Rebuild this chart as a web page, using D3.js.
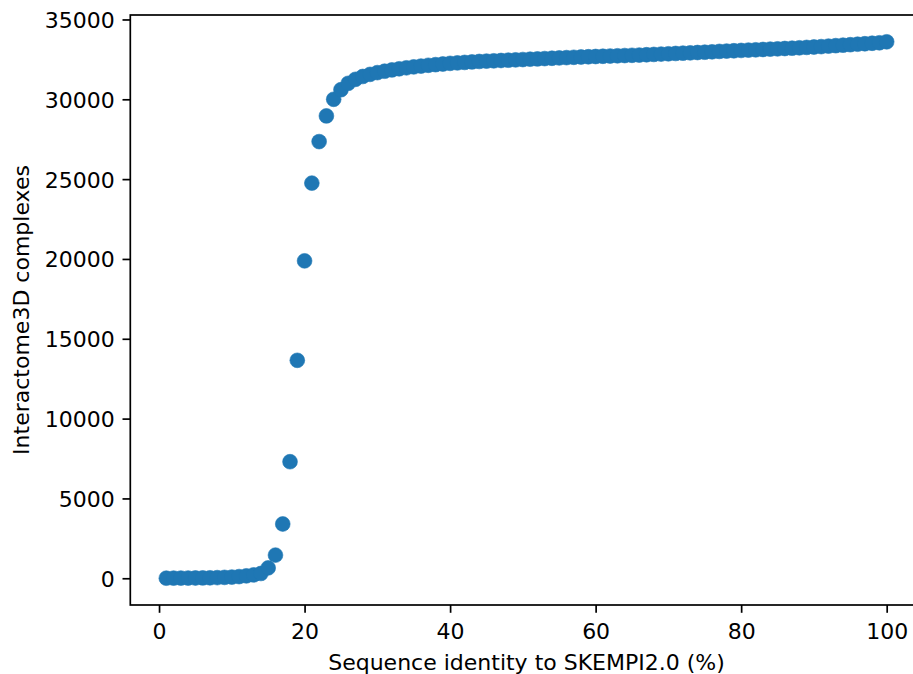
<!DOCTYPE html>
<html>
<head>
<meta charset="utf-8">
<script src="https://cdn.jsdelivr.net/npm/d3@7"></script>
<style>
  html, body { margin: 0; padding: 0; background: #fff; }
  svg { display: block; }
  text { font-family: "DejaVu Sans", sans-serif; fill: #000; }
</style>
</head>
<body>
<svg id="chart" width="913" height="674"></svg>
<script>
// Sequence identity threshold (%)
const identity = d3.range(1, 101);
// Interactome3D complexes (cumulative count)
const complexes = [
  5, 8, 10, 13, 17, 22, 30, 40, 55, 75,
  105, 150, 210, 300, 650, 1450, 3400, 7300, 13650, 19880,
  24750, 27350, 28960, 30000, 30600, 31000, 31250, 31430, 31560, 31670,
  31760, 31840, 31910, 31970, 32030, 32080, 32130, 32170, 32210, 32250,
  32280, 32310, 32340, 32370, 32390, 32410, 32430, 32450, 32470, 32490,
  32510, 32530, 32550, 32570, 32590, 32610, 32630, 32650, 32665, 32680,
  32695, 32710, 32725, 32740, 32755, 32770, 32790, 32810, 32830, 32850,
  32870, 32890, 32910, 32930, 32950, 32975, 33000, 33020, 33040, 33060,
  33080, 33100, 33120, 33140, 33160, 33180, 33200, 33225, 33250, 33275,
  33300, 33330, 33360, 33390, 33420, 33450, 33480, 33510, 33540, 33600
];
const xTicks = [0, 20, 40, 60, 80, 100];
const yTicks = [0, 5000, 10000, 15000, 20000, 25000, 30000, 35000];
const xLabel = "Sequence identity to SKEMPI2.0 (%)";
const yLabel = "Interactome3D complexes";

const data = identity.map((x, i) => ({ x, y: complexes[i] }));

const svg = d3.select("#chart");
const L = 130.3, R = 922.7, T = 15, B = 605;
const color = "#1f77b4";

const xMin = d3.min(identity), xMax = d3.max(identity);
const xPad = (xMax - xMin) * 0.05;
const yMin = d3.min(complexes), yMax = d3.max(complexes);
const yPad = (yMax - yMin) * 0.05;

const x = d3.scaleLinear().domain([xMin - xPad, xMax + xPad]).range([L, R]);
const y = d3.scaleLinear().domain([yMin - yPad, yMax + yPad]).range([B, T]);

const clip = svg.append("defs").append("clipPath").attr("id", "clip")
  .append("rect").attr("x", L).attr("y", T).attr("width", R - L).attr("height", B - T);

// points
svg.append("g").attr("clip-path", null)
  .selectAll("circle").data(data).enter().append("circle")
  .attr("cx", d => x(d.x))
  .attr("cy", d => y(d.y))
  .attr("r", 7.4)
  .attr("fill", color)
  .attr("stroke", color)
  .attr("stroke-width", 0.6);

// axes
const xAxis = d3.axisBottom(x).tickValues(xTicks).tickSize(7.8).tickPadding(7.8).tickFormat(d3.format("d"));
const yAxis = d3.axisLeft(y).tickValues(yTicks).tickSize(7.8).tickPadding(7.8).tickFormat(d3.format("d"));

const gx = svg.append("g").attr("transform", `translate(0,${B})`).call(xAxis);
const gy = svg.append("g").attr("transform", `translate(${L},0)`).call(yAxis);
[gx, gy].forEach(g => {
  g.select(".domain").remove();
  g.selectAll(".tick line").attr("stroke", "#000").attr("stroke-width", 1.7);
  g.selectAll(".tick text").attr("font-size", 22).attr("font-family", "DejaVu Sans, sans-serif").attr("fill", "#000");
});
gx.selectAll(".tick text").attr("dy", null).attr("y", 33.5);
gy.selectAll(".tick text").attr("dy", "0.36em");

// spines
svg.append("rect").attr("x", L).attr("y", T).attr("width", R - L).attr("height", B - T)
  .attr("fill", "none").attr("stroke", "#000").attr("stroke-width", 1.7);

// labels
svg.append("text").attr("x", (L + R) / 2).attr("y", 670)
  .attr("text-anchor", "middle").attr("font-size", 22).text(xLabel);
svg.append("text").attr("transform", `translate(29,${(T + B) / 2}) rotate(-90)`)
  .attr("text-anchor", "middle").attr("font-size", 22).text(yLabel);
</script>
</body>
</html>
